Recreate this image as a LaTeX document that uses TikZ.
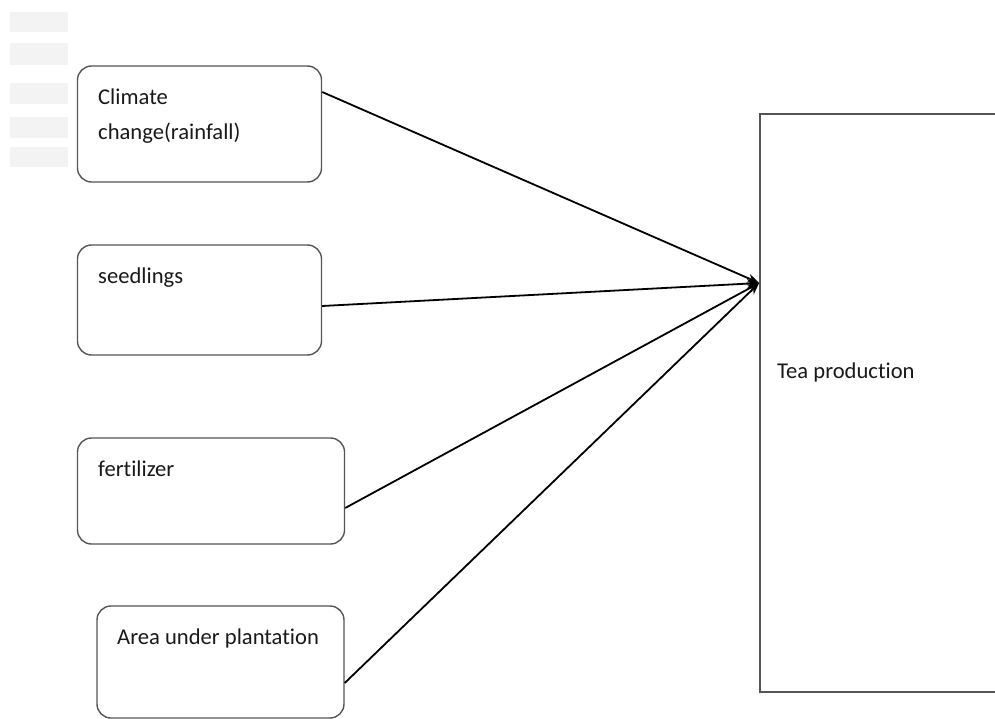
\documentclass[tikz,border=0pt]{standalone}
\usepackage{fontspec}
\setmainfont[RawFeature=-liga]{Carlito}
\usetikzlibrary{arrows.meta}
\definecolor{boxgray}{HTML}{555555}
\definecolor{bargray}{HTML}{F3F3F3}
\tikzset{
  factor/.style={draw=boxgray, line width=1.4pt, rounded corners=14pt, inner sep=0pt},
  lbl/.style={anchor=base west, inner sep=0pt, font=\fontsize{22.6}{26}\selectfont, text=black!90},
  conn/.style={draw=black, line width=1.8pt, -{Stealth[length=12pt,width=9pt]}},
  bar/.style={fill=bargray, draw=none}
}
\begin{document}
\begin{tikzpicture}[x=1pt,y=-1pt]
\useasboundingbox (0,0) rectangle (995,719);
\clip (0,0) rectangle (995,719);
% faint bars top-left
\fill[bar] (10,12) rectangle (68,32);
\fill[bar] (10,43) rectangle (68,65);
\fill[bar] (10,83) rectangle (68,104);
\fill[bar] (10,117) rectangle (68,138);
\fill[bar] (10,147) rectangle (68,167);
% factor boxes
\node[factor, minimum width=244pt, minimum height=116pt] (b1) at (199.5,124) {};
\node[factor, minimum width=244pt, minimum height=110pt] (b2) at (199.5,300) {};
\node[factor, minimum width=267pt, minimum height=106pt] (b3) at (211,491) {};
\node[factor, minimum width=247pt, minimum height=112pt] (b4) at (220.5,662) {};
% tea production box
\node[draw=boxgray, line width=1.7pt, minimum width=300pt, minimum height=578pt, inner sep=0pt] (tea) at (910,403) {};
% labels
\node[lbl] (l1a) at (98,105) {Climate};
\node[lbl] (l1b) at (98,140) {change(rainfall)};
\node[lbl] (l2) at (98,283) {seedlings};
\node[lbl] (l3) at (98,476) {fertilizer};
\node[lbl] (l4) at (117,644) {Area under plantation};
\node[lbl] (lt) at (777,378) {Tea production};
% target point
\coordinate (tip) at ([yshift=120pt]tea.west);
% connectors
\draw[conn] ([yshift=32pt]b1.east) -- (tip);
\draw[conn] ([yshift=-6pt]b2.east) -- (tip);
\draw[conn] ([yshift=-17pt]b3.east) -- (tip);
\draw[conn] ([yshift=-21pt]b4.east) -- (tip);
\end{tikzpicture}
\end{document}
